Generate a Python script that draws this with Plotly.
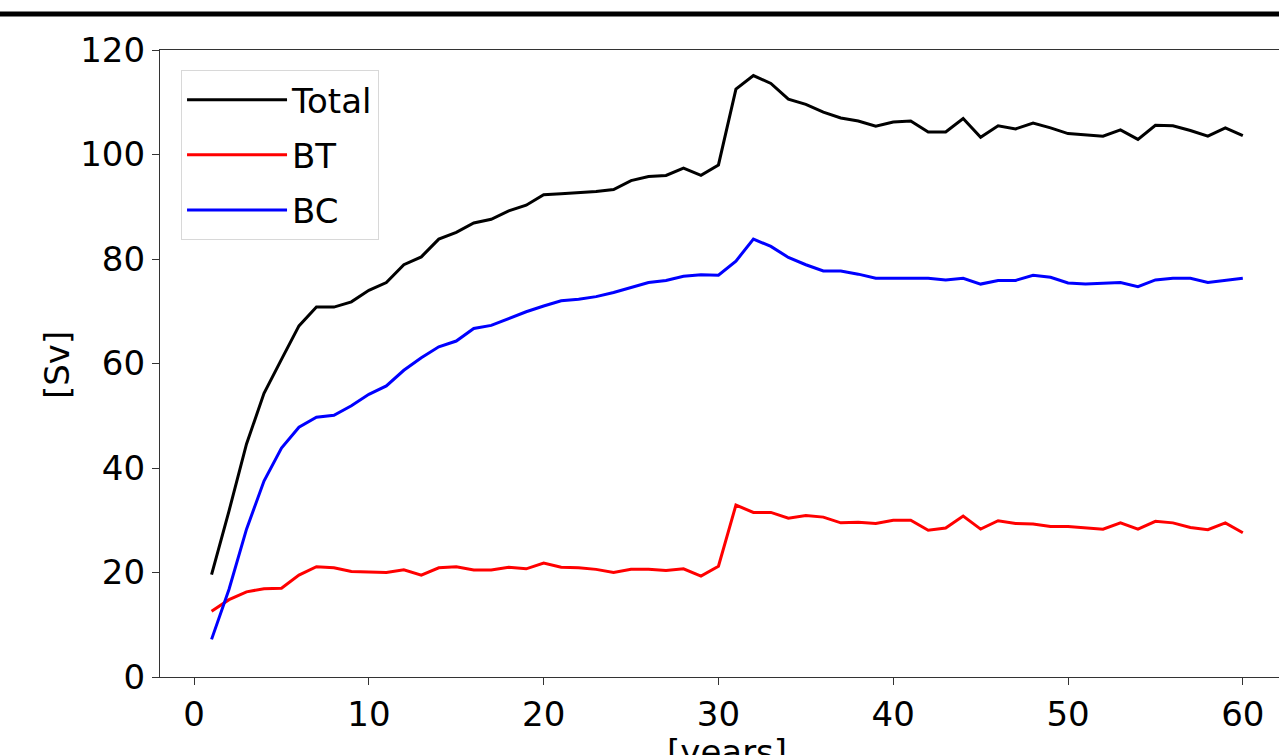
import plotly.graph_objects as go

years = list(range(1, 61))

total = [19.6, 31.8, 44.6, 54.3, 60.8, 67.2, 70.8, 70.8, 71.8, 74.0,
         75.5, 78.9, 80.4, 83.8, 85.1, 86.9, 87.6, 89.2, 90.3, 92.3,
         92.5, 92.7, 92.9, 93.3, 95.0, 95.8, 96.0, 97.4, 96.0, 98.0,
         112.5, 115.1, 113.6, 110.6, 109.6, 108.1, 107.0, 106.4, 105.4, 106.2,
         106.4, 104.3, 104.3, 106.9, 103.3, 105.5, 104.9, 106.0, 105.1, 104.0,
         103.7, 103.5, 104.7, 102.9, 105.6, 105.5, 104.6, 103.5, 105.1, 103.6]

bt = [12.6, 14.8, 16.3, 16.9, 17.0, 19.5, 21.1, 20.9, 20.2, 20.1,
      20.0, 20.5, 19.5, 20.9, 21.1, 20.5, 20.5, 21.0, 20.7, 21.8,
      21.0, 20.9, 20.6, 20.0, 20.6, 20.6, 20.4, 20.7, 19.3, 21.2,
      32.9, 31.5, 31.5, 30.4, 30.9, 30.6, 29.5, 29.6, 29.4, 30.0,
      30.0, 28.1, 28.5, 30.8, 28.3, 29.9, 29.4, 29.3, 28.8, 28.8,
      28.6, 28.3, 29.5, 28.3, 29.8, 29.5, 28.6, 28.2, 29.5, 27.6]

bc = [7.2, 16.8, 28.3, 37.5, 43.8, 47.8, 49.7, 50.1, 51.9, 54.1,
      55.7, 58.7, 61.1, 63.2, 64.3, 66.7, 67.3, 68.6, 69.9, 71.0,
      72.0, 72.3, 72.8, 73.6, 74.6, 75.5, 75.9, 76.7, 77.0, 76.9,
      79.6, 83.8, 82.4, 80.3, 78.9, 77.7, 77.7, 77.1, 76.3, 76.3,
      76.4, 76.3, 76.0, 76.3, 75.2, 75.9, 75.9, 76.9, 76.5, 75.4,
      75.2, 75.3, 75.5, 74.7, 76.0, 76.3, 76.3, 75.5, 75.9, 76.3]

series_names = ["Total", "BT", "BC"]
series_colors = ["#000000", "#ff0000", "#0000ff"]
x_ticks = [0, 10, 20, 30, 40, 50, 60]
y_ticks = [0, 20, 40, 60, 80, 100, 120]

FONT = "DejaVu Sans"

fig = go.Figure()
for name, vals, col in zip(series_names, [total, bt, bc], series_colors):
    fig.add_trace(go.Scatter(x=years, y=vals, mode="lines", name=name,
                             legendgroup=name,
                             line=dict(color=col, width=3)))

fig.update_layout(
    width=1279, height=755,
    margin=dict(l=160, r=0, t=50, b=78),
    paper_bgcolor="white", plot_bgcolor="white",
    font=dict(family=FONT, size=34, color="black"),
    showlegend=True,
    legend=dict(x=0.0188, y=0.968, xanchor="left", yanchor="top",
                bgcolor="rgba(255,255,255,0.8)", bordercolor="#d8d8d8",
                borderwidth=1, font=dict(family=FONT, size=34, color="black"),
                itemwidth=100, tracegroupgap=8),
    xaxis=dict(range=[-1.95, 62.07], tickvals=x_ticks, ticks="outside",
               ticklen=7, tickwidth=1.2, tickcolor="#333", showline=True,
               linecolor="#333", linewidth=1.2, mirror=True, showgrid=False,
               zeroline=False, tickfont=dict(family=FONT, size=34)),
    yaxis=dict(range=[0, 120], tickvals=y_ticks, ticks="outside",
               ticklen=7, tickwidth=1.2, tickcolor="#333", showline=True,
               linecolor="#333", linewidth=1.2, mirror=False, showgrid=False,
               zeroline=False, tickfont=dict(family=FONT, size=34)),
    annotations=[
        dict(text="[years]", xref="paper", yref="paper", x=0.5067, y=-0.085,
             xanchor="center", yanchor="top", showarrow=False,
             font=dict(family=FONT, size=34)),
        dict(text="[Sv]", xref="paper", yref="paper", x=-0.092, y=0.4976,
             xanchor="center", yanchor="middle", showarrow=False, textangle=-90,
             font=dict(family=FONT, size=34)),
    ],
    shapes=[dict(type="line", xref="paper", yref="paper", x0=-0.2, x1=1.0,
                 y0=1.0574, y1=1.0574, line=dict(color="black", width=5))],
)

fig.write_html("out.html")
